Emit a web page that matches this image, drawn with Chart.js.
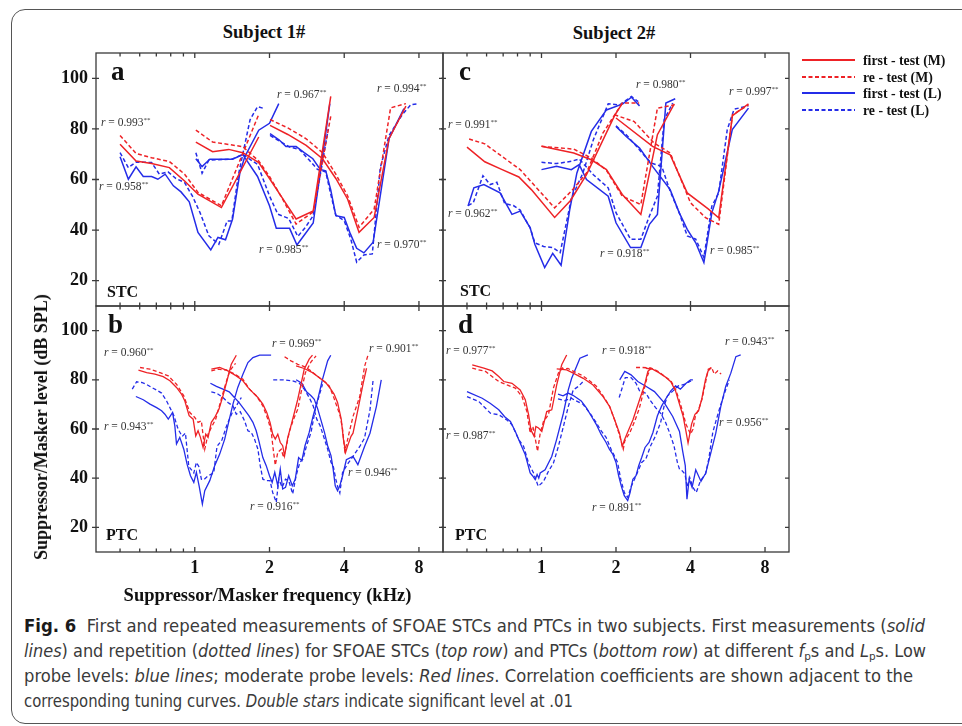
<!DOCTYPE html>
<html>
<head>
<meta charset="utf-8">
<script src="https://cdn.jsdelivr.net/npm/chart.js@4.4.0/dist/chart.umd.min.js"></script>
<style>
html, body { margin: 0; padding: 0; background: #fff; }
body { width: 962px; height: 726px; position: relative; overflow: hidden; font-family: 'Liberation Serif', 'Times New Roman', serif; }
.frame { position: absolute; left: 11px; top: 9px; width: 1000px; height: 713px; border: 1.2px solid #555; border-radius: 14px; }
canvas { position: absolute; }
.t { position: absolute; white-space: nowrap; line-height: 1; color: #111; }
.subj { font-weight: bold; font-size: 18.5px; transform: translateX(-50%); }
.pl { font-weight: bold; font-size: 27px; }
.kind { font-weight: bold; font-size: 16px; }
.axt { font-weight: bold; font-size: 18.5px; }
.r { font-size: 11.5px; color: #333; }
.r sup { font-size: 7px; vertical-align: 4px; line-height: 0; }
.cap { position: absolute; left: 24px; font-family: 'Liberation Sans Narrow', 'DejaVu Sans Condensed', 'Roboto', sans-serif; font-size: 17px; color: #3a3a3a; white-space: nowrap; line-height: 1; transform-origin: 0 0; }
.cap b { color: #1a1a1a; }
.cap sub { font-size: 11px; vertical-align: -3px; line-height: 0; }
</style>
</head>
<body>
<div class="frame"></div>

<div class="t subj" style="left:264px; top:23px;">Subject 1#</div>
<div class="t subj" style="left:614px; top:23.5px;">Subject 2#</div>

<canvas id="chartA" width="405" height="257" style="left:40px; top:51px;"></canvas>
<canvas id="chartB" width="405" height="276" style="left:40px; top:304px;"></canvas>
<canvas id="chartC" width="521" height="257" style="left:441px; top:51px;"></canvas>
<canvas id="chartD" width="350" height="276" style="left:441px; top:304px;"></canvas>

<div class="t pl" style="left:111px; top:58px;">a</div>
<div class="t pl" style="left:459px; top:58px;">c</div>
<div class="t pl" style="left:108px; top:311px;">b</div>
<div class="t pl" style="left:458px; top:311px;">d</div>

<div class="t kind" style="left:107px; top:284px;">STC</div>
<div class="t kind" style="left:460px; top:283px;">STC</div>
<div class="t kind" style="left:106px; top:527px;">PTC</div>
<div class="t kind" style="left:455px; top:527px;">PTC</div>

<div class="t r" style="left:101px; top:117px;"><i>r</i> = 0.993<sup>**</sup></div>
<div class="t r" style="left:99px; top:181px;"><i>r</i> = 0.958<sup>**</sup></div>
<div class="t r" style="left:277px; top:89px;"><i>r</i> = 0.967<sup>**</sup></div>
<div class="t r" style="left:259px; top:244px;"><i>r</i> = 0.985<sup>**</sup></div>
<div class="t r" style="left:377px; top:83px;"><i>r</i> = 0.994<sup>**</sup></div>
<div class="t r" style="left:377px; top:239px;"><i>r</i> = 0.970<sup>**</sup></div>

<div class="t r" style="left:448px; top:119px;"><i>r</i> = 0.991<sup>**</sup></div>
<div class="t r" style="left:448px; top:208px;"><i>r</i> = 0.962<sup>**</sup></div>
<div class="t r" style="left:636px; top:79px;"><i>r</i> = 0.980<sup>**</sup></div>
<div class="t r" style="left:600px; top:248px;"><i>r</i> = 0.918<sup>**</sup></div>
<div class="t r" style="left:729px; top:86px;"><i>r</i> = 0.997<sup>**</sup></div>
<div class="t r" style="left:710px; top:245px;"><i>r</i> = 0.985<sup>**</sup></div>

<div class="t r" style="left:104px; top:347px;"><i>r</i> = 0.960<sup>**</sup></div>
<div class="t r" style="left:104px; top:421px;"><i>r</i> = 0.943<sup>**</sup></div>
<div class="t r" style="left:272px; top:338px;"><i>r</i> = 0.969<sup>**</sup></div>
<div class="t r" style="left:250px; top:501px;"><i>r</i> = 0.916<sup>**</sup></div>
<div class="t r" style="left:369px; top:343px;"><i>r</i> = 0.901<sup>**</sup></div>
<div class="t r" style="left:348px; top:467px;"><i>r</i> = 0.946<sup>**</sup></div>

<div class="t r" style="left:446px; top:345px;"><i>r</i> = 0.977<sup>**</sup></div>
<div class="t r" style="left:446px; top:430px;"><i>r</i> = 0.987<sup>**</sup></div>
<div class="t r" style="left:602px; top:345px;"><i>r</i> = 0.918<sup>**</sup></div>
<div class="t r" style="left:592px; top:502px;"><i>r</i> = 0.891<sup>**</sup></div>
<div class="t r" style="left:725px; top:336px;"><i>r</i> = 0.943<sup>**</sup></div>
<div class="t r" style="left:719px; top:417px;"><i>r</i> = 0.956<sup>**</sup></div>

<div class="t axt" style="left:41px; top:427px; transform: translate(-50%, -50%) rotate(-90deg); font-size:18px;">Suppressor/Masker level (dB SPL)</div>
<div class="t axt" style="left:267.5px; top:595px; transform: translate(-50%, -50%);">Suppressor/Masker frequency (kHz)</div>

<div class="cap" data-w="901" style="top:618px;"><b>Fig. 6</b>&nbsp; First and repeated measurements of SFOAE STCs and PTCs in two subjects. First measurements (<i>solid</i></div>
<div class="cap" data-w="902" style="top:643px;"><i>lines</i>) and repetition (<i>dotted lines</i>) for SFOAE STCs (<i>top row</i>) and PTCs (<i>bottom row</i>) at different <i>f</i><sub>p</sub>s and <i>L</i><sub>p</sub>s. Low</div>
<div class="cap" data-w="889" style="top:668px;">probe levels: <i>blue lines</i>; moderate probe levels: <i>Red lines</i>. Correlation coefficients are shown adjacent to the</div>
<div class="cap" data-w="549" style="top:693px;">corresponding tuning curves. <i>Double stars</i> indicate significant level at .01</div>

<script>
// ---- data: [frequency kHz, level dB SPL], three tuning curves per series ----
const SERIES = ['first - test (M)', 're - test (M)', 'first - test (L)', 're - test (L)'];
const X_MAJOR = [1, 2, 4, 8];
const X_MINOR = [0.5, 0.6, 0.7, 0.8, 0.9];
const Y_TICKS = [20, 40, 60, 80, 100];

// panel a : subject 1, STC
const aRedFirst = [
  [[0.50,73.9],[0.58,67.3],[0.67,66.3],[0.79,64.7],[0.91,59.4],[1.03,54.2],[1.28,48.9],[1.81,76.8]],
  [[1.01,74.8],[1.18,71.0],[1.37,71.9],[1.56,70.6],[1.81,66.7],[2.0,60.4],[2.23,53.3],[2.56,44.4],[3.0,47.6],[3.53,92.9]],
  [[2.01,81.4],[2.37,77.8],[2.81,73.5],[3.27,68.2],[3.70,60.4],[4.13,52.2],[4.59,39.1],[5.28,45.0],[6.06,76.1],[7.09,89.0]]
];
const aRedRetest = [
  [[0.50,77.4],[0.58,70.3],[0.67,68.6],[0.79,67.1],[0.91,62.1],[1.03,54.9],[1.28,49.6],[1.81,85.7]],
  [[1.01,79.5],[1.18,74.8],[1.56,73.0],[1.81,67.3],[2.0,61.2],[2.26,52.2],[2.56,42.4],[3.0,47.2],[3.53,85.0]],
  [[2.01,83.7],[2.37,80.4],[2.81,76.1],[3.27,70.6],[3.70,62.1],[4.13,53.5],[4.59,41.1],[5.28,48.3],[6.15,88.3],[7.09,90.0]]
];
const aBlueFirst = [
  [[0.50,69.0],[0.54,60.1],[0.58,65.0],[0.62,61.2],[0.67,61.2],[0.71,60.1],[0.76,62.1],[0.82,57.5],[0.88,55.1],[0.95,51.2],[1.03,39.1],[1.16,32.2],[1.24,37.1],[1.33,36.2],[1.42,44.4],[1.52,62.7],[1.59,69.0],[1.81,79.5],[2.0,82.2],[2.18,90.0]],
  [[1.01,68.2],[1.07,65.1],[1.15,68.0],[1.42,68.0],[1.56,69.9],[1.79,61.2],[2.0,49.6],[2.13,40.7],[2.41,40.7],[2.58,34.1],[3.0,42.8],[3.50,90.0]],
  [[2.01,78.1],[2.19,75.6],[2.33,73.0],[2.56,73.0],[2.76,70.6],[2.99,68.2],[3.20,64.0],[3.37,63.4],[3.53,55.9],[3.70,45.7],[4.0,45.0],[4.21,39.1],[4.49,32.8],[4.80,31.0],[5.23,35.2],[6.06,76.1],[6.96,88.0]]
];
const aBlueRetest = [
  [[0.50,70.6],[0.54,64.7],[0.58,66.9],[0.67,66.7],[0.72,62.1],[0.78,63.0],[0.84,60.4],[0.91,58.8],[0.98,53.3],[1.05,46.9],[1.14,37.7],[1.25,34.4],[1.35,43.6],[1.41,43.6],[1.50,62.0],[1.67,83.6],[1.79,88.8],[1.88,88.2]],
  [[1.01,70.6],[1.07,62.5],[1.14,67.7],[1.41,68.0],[1.56,69.9],[1.79,66.0],[2.0,53.5],[2.16,46.3],[2.39,44.6],[2.60,37.5],[2.79,41.1],[3.0,45.7],[3.45,80.0]],
  [[2.01,77.4],[2.23,74.8],[2.41,72.8],[2.64,71.9],[2.89,67.7],[3.12,64.0],[3.37,63.0],[3.53,54.2],[3.70,45.9],[4.0,43.7],[4.25,36.5],[4.49,27.3],[4.80,30.2],[5.19,30.6],[5.59,64.7],[6.06,77.4],[6.86,85.7],[7.43,89.6],[8.0,90.0]]
];

// panel c : subject 2, STC
const cRedFirst = [
  [[0.50,72.8],[0.59,67.0],[0.69,64.0],[0.81,61.0],[0.91,56.0],[1.13,45.0],[1.31,51.7],[1.52,61.9],[1.98,85.5],[2.12,90.1]],
  [[1.0,73.1],[1.35,70.5],[1.59,67.8],[1.83,63.9],[2.12,54.1],[2.52,46.2],[2.94,77.7],[3.44,89.9]],
  [[2.0,84.3],[2.81,73.1],[3.31,69.8],[3.88,54.7],[4.7,48.5],[5.2,44.9],[5.91,85.2],[6.86,89.9]]
];
const cRedRetest = [
  [[0.51,76.0],[0.59,74.1],[0.82,63.9],[1.13,48.8],[1.32,55.4],[1.52,62.6],[1.77,78.3],[2.12,90.2],[2.48,90.2]],
  [[1.0,73.1],[1.35,72.0],[1.59,68.5],[1.83,63.6],[2.12,53.4],[2.52,50.1],[2.94,88.2],[3.44,89.5]],
  [[1.97,85.6],[2.37,82.9],[2.85,74.4],[3.31,70.5],[4.0,50.8],[4.6,44.9],[5.2,42.3],[5.91,85.6],[6.86,89.5]]
];
const cBlueFirst = [
  [[0.505,49.5],[0.533,56.7],[0.585,58.0],[0.68,54.7],[0.76,46.2],[0.82,47.5],[0.90,40.9],[0.94,34.4],[1.03,25.2],[1.11,30.8],[1.20,26.1],[1.30,48.0],[1.39,62.6],[1.59,79.0],[1.83,87.5],[2.13,89.9],[2.31,92.5],[2.49,89.1]],
  [[1.0,63.9],[1.15,65.2],[1.32,63.9],[1.42,65.9],[1.52,60.0],[1.86,53.4],[2.0,42.9],[2.29,33.1],[2.52,33.1],[2.73,42.3],[2.94,46.2],[3.18,90.2],[3.47,91.9]],
  [[2.0,81.0],[2.2,77.0],[2.49,72.4],[2.81,65.2],[3.31,56.0],[3.6,46.9],[3.88,40.3],[4.2,35.0],[4.53,27.2],[4.88,46.9],[5.2,55.4],[5.9,79.7],[6.86,88.2]]
];
const cBlueRetest = [
  [[0.505,49.7],[0.53,50.8],[0.58,61.5],[0.62,58.0],[0.66,58.9],[0.71,50.5],[0.77,49.7],[0.82,47.9],[0.90,40.9],[0.94,35.0],[1.02,33.5],[1.11,33.1],[1.19,31.1],[1.32,52.4],[1.47,62.6],[1.62,75.7],[1.86,89.9],[2.07,89.5],[2.31,92.8],[2.46,90.8]],
  [[1.0,66.8],[1.15,66.3],[1.32,67.2],[1.42,68.1],[1.62,61.9],[1.86,56.7],[2.0,46.9],[2.29,36.4],[2.52,36.4],[2.73,45.6],[2.94,53.4],[3.13,83.6],[3.39,90.2]],
  [[2.0,81.2],[2.2,77.7],[2.52,71.1],[2.77,66.5],[3.06,65.2],[3.31,55.4],[3.6,46.9],[3.88,37.7],[4.2,36.4],[4.53,29.2],[4.88,49.5],[5.2,54.7],[5.63,79.7],[6.0,87.8],[6.86,89.1]]
];

// panel b : subject 1, PTC
const bRedFirst = [
  [[0.593,83.9],[0.64,82.9],[0.691,82.3],[0.746,81.3],[0.794,79.6],[0.844,76.9],[0.884,74.2],[0.912,71.4],[0.949,65.4],[0.985,64.0],[1.009,57.2],[1.031,59.3],[1.054,56.6],[1.08,52.5],[1.107,57.9],[1.131,56.6],[1.166,62.7],[1.203,64.7],[1.252,68.1],[1.299,73.5],[1.348,79.6],[1.403,86.3],[1.47,90.0]],
  [[1.166,84.3],[1.26,85.0],[1.36,83.6],[1.47,81.6],[1.563,79.6],[1.637,76.9],[1.715,74.8],[1.796,72.8],[1.88,70.1],[1.95,66.7],[2.01,62.7],[2.06,57.9],[2.11,55.9],[2.16,57.9],[2.21,54.5],[2.26,53.2],[2.30,49.1],[2.37,56.6],[2.44,61.3],[2.52,66.7],[2.60,72.1],[2.68,78.2],[2.76,84.3],[2.89,88.4],[2.98,90.0]],
  [[2.56,85.7],[2.76,84.6],[2.98,82.9],[3.17,80.9],[3.37,78.9],[3.53,76.2],[3.64,74.2],[3.76,70.8],[3.89,64.0],[3.97,55.9],[4.05,50.5],[4.13,53.2],[4.26,57.0],[4.34,58.3],[4.54,67.8],[4.77,78.6],[4.92,84.7]]
];
const bRedRetest = [
  [[0.602,85.0],[0.66,84.3],[0.724,82.9],[0.782,81.6],[0.844,78.2],[0.903,73.5],[0.955,66.7],[1.0,64.7],[1.031,62.7],[1.063,63.3],[1.097,51.8],[1.131,57.9],[1.166,60.6],[1.214,64.0],[1.268,70.8],[1.324,77.5],[1.382,83.6],[1.46,86.7]],
  [[1.166,83.6],[1.24,84.3],[1.34,84.0],[1.45,82.3],[1.563,80.2],[1.66,76.2],[1.77,73.5],[1.88,69.4],[1.97,64.0],[2.03,59.3],[2.07,51.8],[2.11,45.3],[2.16,50.5],[2.23,51.8],[2.28,48.4],[2.34,53.2],[2.41,59.3],[2.5,64.0],[2.6,68.1],[2.68,74.8],[2.79,82.9],[2.94,87.3],[3.08,89.7]],
  [[2.30,89.4],[2.44,87.7],[2.60,86.3],[2.76,85.4],[2.94,83.6],[3.13,81.3],[3.33,79.2],[3.48,77.5],[3.61,73.5],[3.73,69.4],[3.85,65.4],[3.94,59.9],[4.02,51.2],[4.09,53.9],[4.19,58.6],[4.34,65.1],[4.62,73.2],[4.83,85.4],[4.99,90.1]]
];
const bBlueFirst = [
  [[0.579,73.2],[0.62,71.9],[0.66,70.1],[0.702,68.7],[0.735,67.4],[0.758,66.0],[0.782,64.0],[0.814,66.7],[0.831,61.3],[0.844,53.9],[0.87,56.6],[0.903,51.8],[0.931,45.7],[0.961,41.0],[0.991,38.3],[1.015,42.4],[1.041,36.9],[1.073,29.5],[1.097,34.9],[1.149,39.0],[1.203,45.1],[1.26,49.8],[1.32,55.9],[1.373,63.3],[1.425,70.1],[1.49,76.9],[1.563,82.3],[1.637,87.0],[1.715,89.0],[1.824,90.0],[2.03,90.0]],
  [[1.156,78.6],[1.222,77.3],[1.299,76.2],[1.376,75.1],[1.432,73.2],[1.506,70.8],[1.587,67.8],[1.651,65.4],[1.715,62.7],[1.768,59.3],[1.812,55.2],[1.88,48.4],[1.94,45.1],[2.0,41.0],[2.05,38.3],[2.1,42.4],[2.16,36.9],[2.21,43.7],[2.26,35.6],[2.32,36.3],[2.39,41.0],[2.47,36.9],[2.54,39.6],[2.62,48.4],[2.70,47.1],[2.78,53.2],[2.89,58.6],[3.0,65.4],[3.13,72.1],[3.27,80.2],[3.43,87.7],[3.53,90.0]],
  [[2.56,80.0],[2.70,78.6],[2.82,75.1],[2.94,73.5],[3.03,72.1],[3.13,68.1],[3.23,63.3],[3.33,58.6],[3.43,53.2],[3.54,49.1],[3.61,43.7],[3.68,36.9],[3.76,34.9],[3.84,36.9],[3.94,41.0],[4.08,47.5],[4.34,48.9],[4.54,45.5],[4.83,52.9],[5.08,58.3],[5.39,69.1],[5.64,80.0]]
];
const bBlueRetest = [
  [[0.56,76.2],[0.583,79.2],[0.611,78.9],[0.64,78.1],[0.67,76.9],[0.70,75.9],[0.735,74.6],[0.77,71.4],[0.794,68.7],[0.824,65.4],[0.857,59.9],[0.89,57.0],[0.917,58.3],[0.946,44.8],[0.991,42.1],[1.015,46.4],[1.038,44.8],[1.063,39.6],[1.087,39.4],[1.131,41.0],[1.192,42.1],[1.229,52.9],[1.287,55.6],[1.348,61.7],[1.412,66.4],[1.47,69.4],[1.54,72.8]],
  [[1.166,75.1],[1.222,74.6],[1.299,72.8],[1.36,70.8],[1.425,69.4],[1.47,66.0],[1.525,67.0],[1.587,63.3],[1.637,59.3],[1.69,58.6],[1.74,55.9],[1.796,51.8],[1.835,45.1],[1.88,39.6],[1.94,39.0],[2.01,39.0],[2.06,34.2],[2.13,30.2],[2.18,39.6],[2.25,36.3],[2.32,39.6],[2.39,39.0],[2.48,33.6],[2.56,41.0],[2.65,46.4],[2.73,47.8],[2.82,53.2],[2.94,58.6],[3.06,68.1],[3.17,73.5],[3.27,78.2]],
  [[2.07,80.0],[2.26,80.0],[2.48,79.6],[2.64,78.6],[2.76,76.2],[2.89,72.8],[3.0,69.4],[3.10,64.0],[3.20,61.3],[3.33,55.9],[3.43,51.8],[3.54,46.4],[3.61,45.1],[3.70,39.6],[3.78,35.9],[3.84,34.0],[3.94,42.4],[4.15,46.1],[4.34,48.9],[4.62,52.9],[4.83,56.3],[5.08,67.8],[5.23,80.0]]
];

// panel d : subject 2, PTC
const dRedFirst = [
  [[0.525,86.1],[0.585,84.7],[0.632,83.6],[0.672,81.3],[0.704,79.3],[0.76,78.6],[0.82,75.9],[0.86,71.9],[0.887,65.8],[0.906,59.7],[0.934,57.0],[0.949,61.0],[0.973,60.4],[1.003,59.0],[1.05,67.1],[1.10,67.8],[1.152,77.9],[1.207,86.1],[1.264,90.1]],
  [[1.152,84.4],[1.264,84.0],[1.344,82.7],[1.474,80.6],[1.616,77.9],[1.773,73.2],[1.886,69.1],[1.976,63.7],[2.066,58.3],[2.12,52.9],[2.165,55.6],[2.235,59.0],[2.34,63.7],[2.49,71.9],[2.61,77.9],[2.69,83.4],[2.77,84.7]],
  [[2.64,84.7],[2.81,84.3],[2.98,82.9],[3.15,81.3],[3.33,79.2],[3.48,75.5],[3.61,70.1],[3.73,65.4],[3.83,59.3],[3.91,54.3],[3.96,57.2],[4.04,62.0],[4.17,66.0],[4.31,67.4],[4.44,72.1],[4.6,80.2],[4.71,83.6],[4.86,85.0]]
];
const dRedRetest = [
  [[0.525,84.7],[0.594,83.4],[0.672,79.3],[0.726,77.9],[0.784,76.6],[0.834,73.2],[0.873,67.1],[0.90,58.3],[0.923,61.0],[0.943,56.3],[0.964,50.9],[0.988,58.3],[1.019,63.1],[1.067,65.8],[1.117,76.6],[1.17,82.7],[1.222,85.0]],
  [[1.184,84.3],[1.279,84.6],[1.382,82.9],[1.47,81.6],[1.563,79.6],[1.662,77.5],[1.768,73.7],[1.88,69.4],[1.97,64.0],[2.06,57.9],[2.14,51.8],[2.17,55.2],[2.21,56.6],[2.26,57.9],[2.37,62.7],[2.48,68.1],[2.6,76.2],[2.68,81.6],[2.76,85.0]],
  [[2.41,85.0],[2.56,85.0],[2.76,84.8],[2.94,83.6],[3.13,81.6],[3.33,79.6],[3.48,76.2],[3.61,71.4],[3.73,66.7],[3.83,62.0],[3.92,59.9],[4.0,57.9],[4.09,59.9],[4.19,65.4],[4.32,68.1],[4.45,72.1],[4.6,78.9],[4.72,84.3],[4.87,85.0],[4.99,82.3],[5.15,83.6],[5.32,82.3]]
];
const dBlueFirst = [
  [[0.50,75.2],[0.576,72.5],[0.62,70.5],[0.672,67.8],[0.71,65.0],[0.749,63.1],[0.784,59.0],[0.82,54.3],[0.86,49.5],[0.90,42.1],[0.92,41.0],[0.943,39.4],[0.96,41.5],[0.975,40.0],[0.988,42.1],[1.034,43.4],[1.10,48.8],[1.15,55.6],[1.226,66.4],[1.283,75.9],[1.324,80.6],[1.43,88.8],[1.54,90.1]],
  [[1.166,74.2],[1.222,73.5],[1.28,74.6],[1.34,73.7],[1.382,72.8],[1.447,71.4],[1.516,68.7],[1.587,65.4],[1.662,62.0],[1.74,57.9],[1.824,54.5],[1.88,51.8],[1.94,49.8],[2.0,46.4],[2.05,41.0],[2.1,36.9],[2.16,32.9],[2.23,30.9],[2.28,34.2],[2.34,39.6],[2.41,41.0],[2.47,45.1],[2.54,48.4],[2.62,52.5],[2.72,54.5],[2.82,58.6],[2.94,65.4],[3.06,69.4],[3.17,72.1],[3.33,75.5],[3.48,77.5],[3.64,76.2],[3.83,78.5],[4.0,80.0],[4.09,80.0]],
  [[2.07,80.0],[2.17,83.4],[2.30,82.0],[2.45,79.3],[2.65,77.3],[2.86,75.2],[3.14,70.5],[3.39,65.1],[3.61,59.0],[3.72,50.9],[3.81,45.1],[3.87,31.5],[3.95,39.6],[4.06,36.3],[4.2,43.4],[4.41,38.7],[4.61,42.1],[4.83,50.2],[5.06,58.3],[5.3,69.1],[5.55,77.3],[5.82,82.7],[6.1,89.4],[6.38,90.1]]
];
const dBlueRetest = [
  [[0.50,73.2],[0.558,71.2],[0.622,66.4],[0.672,65.8],[0.724,63.7],[0.76,61.7],[0.81,55.6],[0.847,52.9],[0.887,46.1],[0.929,42.1],[0.97,36.7],[1.019,38.7],[1.067,42.8],[1.117,46.1],[1.17,52.9],[1.226,61.0],[1.283,69.1],[1.344,75.9],[1.408,77.3],[1.474,79.3]],
  [[1.166,72.2],[1.24,71.5],[1.32,72.5],[1.382,71.4],[1.47,70.1],[1.563,66.7],[1.662,62.7],[1.74,59.3],[1.824,56.6],[1.91,51.8],[1.97,49.1],[2.03,46.4],[2.09,39.6],[2.16,34.2],[2.23,32.2],[2.31,36.9],[2.41,41.0],[2.54,46.4],[2.64,47.8],[2.76,53.2],[2.89,57.2],[3.03,62.7],[3.13,69.4],[3.23,73.5],[3.4,75.5],[3.57,77.5],[3.8,78.2],[4.09,80.0]],
  [[2.06,72.8],[2.13,77.5],[2.18,80.9],[2.30,80.9],[2.41,78.6],[2.50,75.1],[2.64,74.6],[2.76,71.4],[2.89,68.7],[3.03,66.4],[3.17,62.7],[3.29,58.6],[3.43,53.2],[3.54,46.4],[3.61,43.7],[3.70,43.0],[3.80,41.7],[3.88,36.3],[3.97,40.3],[4.09,36.3],[4.22,34.2],[4.39,39.0],[4.6,41.7],[4.74,47.8],[4.92,58.6],[5.07,63.3],[5.28,69.4],[5.53,75.5],[5.74,80.0]]
];

const RED = 'rgb(238,34,38)';
const BLUE = 'rgb(36,44,232)';
const COLORS = [RED, RED, BLUE, BLUE];
const DASHES = [[], [4, 2.5], [], [4, 2.5]];
const TICK_FONT = { family: "'Liberation Serif', 'Times New Roman', serif", size: 18, weight: 'bold' };

// curves of one series joined with a null point so each curve is its own line
function toPoints(curves) {
  const pts = [];
  curves.forEach((c, i) => {
    if (i > 0) pts.push({ x: c[0][0], y: null });
    c.forEach(p => pts.push({ x: p[0], y: p[1] }));
  });
  return pts;
}

// panel frame + inward ticks
const frameTicks = {
  id: 'frameTicks',
  afterDatasetsDraw(chart) {
    const { ctx, chartArea: a } = chart;
    const x = chart.scales.x, y = chart.scales.y;
    ctx.save();
    ctx.strokeStyle = '#3a3a3a';
    ctx.lineWidth = 1.3;
    ctx.strokeRect(a.left, a.top, a.right - a.left, a.bottom - a.top);
    ctx.beginPath();
    X_MAJOR.forEach(v => {
      const px = x.getPixelForValue(v);
      ctx.moveTo(px, a.top); ctx.lineTo(px, a.top + 5);
      ctx.moveTo(px, a.bottom); ctx.lineTo(px, a.bottom - 5);
    });
    X_MINOR.forEach(v => {
      const px = x.getPixelForValue(v);
      ctx.moveTo(px, a.top); ctx.lineTo(px, a.top + 3.5);
      ctx.moveTo(px, a.bottom); ctx.lineTo(px, a.bottom - 3.5);
    });
    Y_TICKS.forEach(v => {
      const py = y.getPixelForValue(v);
      ctx.moveTo(a.left - 4, py); ctx.lineTo(a.left + 3, py);
      ctx.moveTo(a.right, py); ctx.lineTo(a.right - 4, py);
    });
    ctx.stroke();
    ctx.restore();
  }
};

// legend to the right of panel c
const sideLegend = {
  id: 'sideLegend',
  afterDraw(chart) {
    const { ctx, chartArea: a } = chart;
    const rows = [7, 24, 40, 57];
    ctx.save();
    chart.data.datasets.forEach((ds, i) => {
      const yy = a.top + rows[i];
      ctx.strokeStyle = ds.borderColor;
      ctx.lineWidth = 1.8;
      ctx.setLineDash(ds.borderDash);
      ctx.beginPath();
      ctx.moveTo(a.right + 13, yy);
      ctx.lineTo(a.right + 66, yy);
      ctx.stroke();
      ctx.setLineDash([]);
      ctx.fillStyle = '#111';
      ctx.font = "bold 13.8px 'Liberation Serif', 'Times New Roman', serif";
      ctx.textBaseline = 'middle';
      ctx.fillText(ds.label, a.right + 74, yy + 1);
    });
    ctx.restore();
  }
};

function buildChart(id, series, cfg) {
  const datasets = SERIES.map((label, i) => ({
    label,
    data: toPoints(series[i]),
    borderColor: COLORS[i],
    borderDash: DASHES[i],
    borderWidth: cfg.lw,
    pointRadius: 0,
    fill: false,
    tension: 0,
    spanGaps: false
  }));
  return new Chart(document.getElementById(id), {
    type: 'line',
    data: { datasets },
    options: {
      responsive: false,
      animation: false,
      events: [],
      layout: { padding: cfg.pad },
      plugins: { legend: { display: false }, tooltip: { enabled: false } },
      scales: {
        x: {
          type: 'logarithmic', min: 0.4, max: 10,
          grid: { display: false, drawTicks: false }, border: { display: false },
          afterBuildTicks: sc => { sc.ticks = X_MAJOR.map(v => ({ value: v })); },
          afterFit: sc => { sc.height = cfg.bottom ? 28 : 0; sc.paddingLeft = 0; sc.paddingRight = 0; },
          ticks: { display: cfg.bottom, autoSkip: false, maxRotation: 0, padding: 6, color: '#111', font: TICK_FONT, callback: v => String(v) }
        },
        y: {
          type: 'linear', min: 10, max: 110,
          grid: { display: false, drawTicks: false }, border: { display: false },
          afterBuildTicks: sc => { sc.ticks = Y_TICKS.map(v => ({ value: v })); },
          afterFit: sc => { sc.width = cfg.left ? 56 : 0; sc.paddingTop = 0; sc.paddingBottom = 0; },
          ticks: { display: cfg.left, padding: 8, color: '#111', font: TICK_FONT }
        }
      }
    },
    plugins: cfg.legend ? [frameTicks, sideLegend] : [frameTicks]
  });
}

buildChart('chartA', [aRedFirst, aRedRetest, aBlueFirst, aBlueRetest],
  { left: true, bottom: false, lw: 1.5, pad: { top: 2, right: 2, bottom: 2, left: 0 } });
buildChart('chartB', [bRedFirst, bRedRetest, bBlueFirst, bBlueRetest],
  { left: true, bottom: true, lw: 1.3, pad: { top: 2, right: 2, bottom: 0, left: 0 } });
buildChart('chartC', [cRedFirst, cRedRetest, cBlueFirst, cBlueRetest],
  { left: false, bottom: false, lw: 1.5, legend: true, pad: { top: 2, right: 173, bottom: 2, left: 2 } });
buildChart('chartD', [dRedFirst, dRedRetest, dBlueFirst, dBlueRetest],
  { left: false, bottom: true, lw: 1.3, pad: { top: 2, right: 2, bottom: 0, left: 2 } });

// fit caption lines to the measured line widths
document.querySelectorAll('.cap').forEach(el => {
  const w = el.getBoundingClientRect().width;
  const target = parseFloat(el.dataset.w);
  if (w > 0) el.style.transform = 'scaleX(' + (target / w).toFixed(4) + ')';
});
</script>
</body>
</html>
